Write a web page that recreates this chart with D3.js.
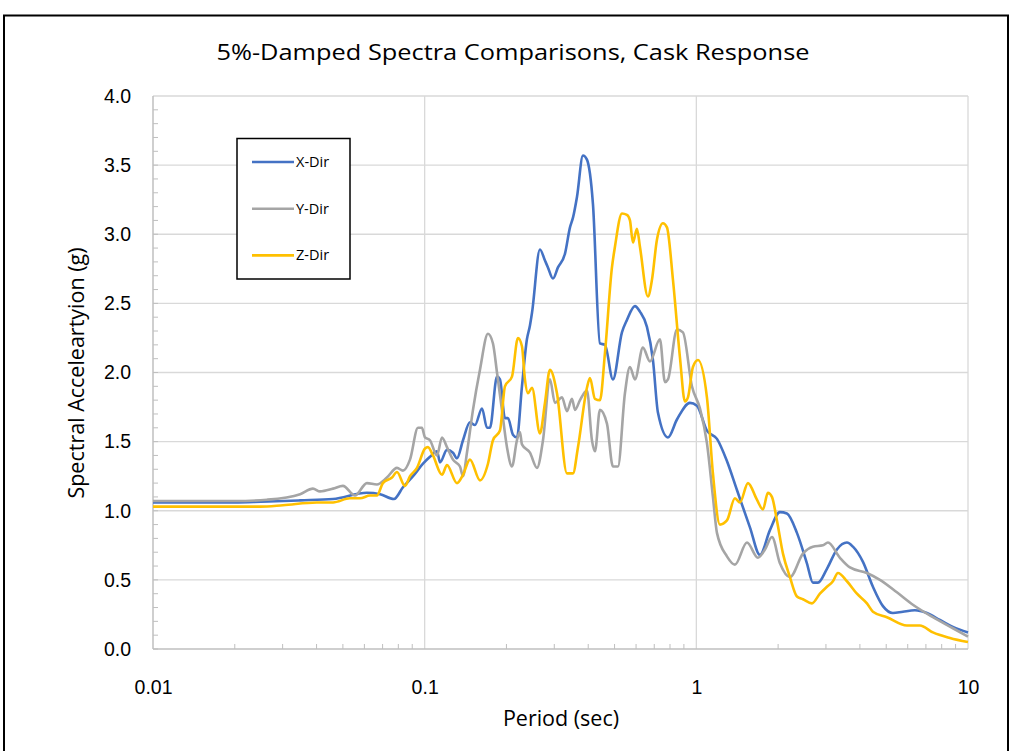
<!DOCTYPE html>
<html lang="en">
<head>
  <meta charset="UTF-8">
  <title>5%-Damped Spectra Comparisons</title>
  <script src="https://d3js.org/d3.v7.min.js"></script>
  <style>
    body { margin: 0; background: #fff; }
    svg { font-family: "Open Sans", Lato, sans-serif; }
    .tick text { font-size: 19.5px; fill: #000; }
    .grid { stroke: #d9d9d9; stroke-width: 1.3; }
    .axisline { stroke: #bfbfbf; stroke-width: 1.5; }
    .minor { stroke: #bfbfbf; stroke-width: 1; }
    .series { fill: none; stroke-width: 2.6; stroke-linejoin: round; }
  </style>
</head>
<body>
<svg></svg>
<script>
  // period (sec) / spectral acceleration (g) pairs
  const xDir = [
    [0.01,1.06],[0.02,1.06],[0.025,1.065],[0.0348,1.075],[0.046,1.085],[0.0613,1.13],[0.0685,1.12],
    [0.0771,1.085],[0.0832,1.17],[0.0906,1.25],[0.0986,1.34],[0.1046,1.39],[0.111,1.43],[0.1139,1.35],
    [0.1208,1.44],[0.1271,1.42],[0.1315,1.38],[0.1384,1.51],[0.1468,1.64],[0.1531,1.62],[0.1626,1.74],
    [0.1696,1.6],[0.1739,1.6],[0.1846,1.97],[0.1893,1.95],[0.1975,1.67],[0.2026,1.67],[0.2113,1.55],
    [0.2186,1.53],[0.2281,1.9],[0.2379,2.24],[0.2441,2.34],[0.2483,2.43],[0.2657,2.89],[0.2772,2.81],
    [0.2843,2.76],[0.2967,2.68],[0.3095,2.76],[0.3285,2.86],[0.3427,3.05],[0.3515,3.12],[0.3636,3.27],
    [0.3826,3.57],[0.3957,3.54],[0.4163,3.22],[0.4418,2.21],[0.4609,2.2],[0.4932,1.95],[0.5323,2.29],
    [0.5554,2.38],[0.5943,2.48],[0.62,2.44],[0.6579,2.33],[0.6924,2.09],[0.7222,1.71],[0.7863,1.53],
    [0.8485,1.66],[0.9471,1.78],[1.005,1.76],[1.094,1.58],[1.191,1.52],[1.296,1.36],[1.411,1.15],
    [1.575,0.88],[1.715,0.68],[1.866,0.86],[2.031,0.99],[2.155,0.98],[2.346,0.84],[2.553,0.62],
    [2.686,0.48],[2.803,0.48],[3.025,0.58],[3.293,0.72],[3.584,0.77],[3.771,0.74],[4.105,0.63],
    [4.467,0.45],[4.863,0.31],[5.291,0.26],[5.759,0.27],[6.376,0.28],[7.06,0.26],[7.882,0.21],
    [8.799,0.16],[10,0.12]
  ];
  const yDir = [
    [0.01,1.07],[0.02,1.07],[0.0263,1.08],[0.0348,1.12],[0.0388,1.16],[0.0412,1.14],[0.046,1.16],
    [0.05,1.18],[0.0554,1.11],[0.0613,1.2],[0.0667,1.19],[0.0726,1.24],[0.0791,1.31],[0.0832,1.29],
    [0.0883,1.37],[0.0945,1.6],[0.0977,1.6],[0.1003,1.53],[0.1046,1.51],[0.111,1.4],[0.1158,1.53],
    [0.1208,1.46],[0.1271,1.37],[0.1349,1.32],[0.1384,1.25],[0.1431,1.42],[0.1506,1.73],[0.1598,2.02],
    [0.171,2.28],[0.1784,2.21],[0.1846,2.0],[0.1925,1.73],[0.2009,1.46],[0.2096,1.32],[0.2186,1.51],
    [0.2242,1.57],[0.2281,1.48],[0.2441,1.42],[0.2591,1.31],[0.2726,1.51],[0.2892,1.95],[0.3017,1.78],
    [0.3202,1.82],[0.3341,1.72],[0.3485,1.81],[0.3575,1.73],[0.373,1.8],[0.3957,1.87],[0.4128,1.51],
    [0.4235,1.43],[0.4418,1.73],[0.4688,1.63],[0.4932,1.32],[0.5146,1.32],[0.546,1.85],[0.5697,2.04],
    [0.5943,1.95],[0.6359,2.18],[0.6749,2.08],[0.7346,2.24],[0.7664,1.93],[0.7863,1.95],[0.8485,2.31],
    [0.8927,2.29],[0.9634,1.9],[1.031,1.74],[1.094,1.49],[1.151,1.1],[1.191,0.84],[1.296,0.67],
    [1.387,0.61],[1.536,0.77],[1.685,0.66],[1.789,0.72],[1.898,0.81],[2.031,0.62],[2.211,0.52],
    [2.468,0.69],[2.686,0.74],[2.924,0.75],[3.051,0.77],[3.378,0.66],[3.676,0.59],[4.246,0.55],
    [4.74,0.5],[5.473,0.41],[6.269,0.32],[7.428,0.23],[8.799,0.15],[10,0.09]
  ];
  const zDir = [
    [0.01,1.03],[0.0248,1.03],[0.0301,1.04],[0.0401,1.06],[0.046,1.06],[0.0531,1.09],[0.0578,1.09],
    [0.0629,1.11],[0.0667,1.11],[0.0702,1.2],[0.0758,1.24],[0.0791,1.28],[0.0846,1.18],[0.0883,1.25],
    [0.0937,1.31],[0.1003,1.45],[0.1028,1.46],[0.1073,1.4],[0.1158,1.26],[0.1208,1.33],[0.1315,1.2],
    [0.1384,1.26],[0.1468,1.37],[0.1598,1.22],[0.171,1.34],[0.1784,1.51],[0.1893,1.58],[0.1975,1.9],
    [0.2096,1.97],[0.2205,2.25],[0.2281,2.19],[0.2339,1.95],[0.24,1.85],[0.2483,1.89],[0.2657,1.56],
    [0.2772,1.78],[0.2892,2.02],[0.3069,1.85],[0.3341,1.27],[0.3515,1.27],[0.3667,1.46],[0.3957,1.89],
    [0.4059,1.96],[0.4235,1.81],[0.4418,1.8],[0.4609,2.14],[0.4891,2.76],[0.5017,2.91],[0.5323,3.15],
    [0.5554,3.14],[0.5697,3.1],[0.5843,2.94],[0.6045,3.04],[0.62,2.91],[0.6635,2.55],[0.6865,2.67],
    [0.7161,2.96],[0.7535,3.08],[0.7796,3.05],[0.8203,2.67],[0.8703,2.11],[0.908,1.79],[0.9314,1.82],
    [0.9716,2.04],[1.014,2.09],[1.094,1.82],[1.151,1.27],[1.221,0.9],[1.296,0.93],[1.387,1.09],
    [1.447,1.06],[1.549,1.2],[1.671,1.08],[1.759,1.01],[1.834,1.13],[1.898,1.1],[1.98,0.93],
    [2.084,0.69],[2.211,0.52],[2.346,0.38],[2.468,0.36],[2.663,0.33],[2.85,0.4],[3.025,0.45],
    [3.183,0.49],[3.321,0.55],[3.584,0.49],[3.901,0.4],[4.246,0.33],[4.467,0.27],[5.028,0.23],
    [5.958,0.17],[6.652,0.17],[7.428,0.12],[8.58,0.08],[10,0.05]
  ];
  const seriesNames = ["X-Dir", "Y-Dir", "Z-Dir"];
  const seriesColors = ["#4472c4", "#a5a5a5", "#ffc000"];
  const xTicks = [0.01, 0.1, 1, 10];
  const yTicks = [0, 0.5, 1, 1.5, 2, 2.5, 3, 3.5, 4];

  const width = 1012, height = 751;
  const svg = d3.select("svg").attr("width", width).attr("height", height);

  // outer frame
  svg.append("rect").attr("x", 4).attr("y", 15.5).attr("width", 1004).attr("height", 800)
    .attr("fill", "none").attr("stroke", "#000").attr("stroke-width", 2);

  const x = d3.scaleLog().domain([0.01, 10]).range([153, 968]);
  const y = d3.scaleLinear().domain([0, 4]).range([649, 96]);

  // gridlines
  svg.selectAll(".hgrid").data(yTicks.filter(d => d > 0)).enter().append("line")
    .attr("class", "grid").attr("x1", 153).attr("x2", 968).attr("y1", d => y(d)).attr("y2", d => y(d));
  svg.selectAll(".vgrid").data(xTicks.slice(1)).enter().append("line")
    .attr("class", "grid").attr("y1", 96).attr("y2", 649).attr("x1", d => x(d)).attr("x2", d => x(d));

  // minor ticks
  const yMinor = d3.range(0, 40).map(i => i / 10);
  svg.selectAll(".ym").data(yMinor).enter().append("line").attr("class", "minor")
    .attr("x1", 153).attr("x2", 158).attr("y1", d => y(d)).attr("y2", d => y(d));
  const xMinor = [];
  [0.01, 0.1, 1].forEach(dec => { for (let k = 2; k <= 9; k++) xMinor.push(dec * k); });
  svg.selectAll(".xm").data(xMinor).enter().append("line").attr("class", "minor")
    .attr("y1", 649).attr("y2", 644).attr("x1", d => x(d)).attr("x2", d => x(d));

  // axis lines
  svg.append("line").attr("class", "axisline").attr("x1", 153).attr("x2", 153).attr("y1", 96).attr("y2", 649);
  svg.append("line").attr("class", "axisline").attr("x1", 153).attr("x2", 968).attr("y1", 649).attr("y2", 649);

  // tick labels
  const yAxis = svg.append("g").attr("transform", "translate(153,0)")
    .call(d3.axisLeft(y).tickValues(yTicks).tickFormat(d3.format(".1f")).tickSize(0).tickPadding(22));
  yAxis.select(".domain").remove();
  const xAxis = svg.append("g").attr("transform", "translate(0,649)")
    .call(d3.axisBottom(x).tickValues(xTicks).tickFormat(d => String(d)).tickSize(0).tickPadding(31));
  xAxis.select(".domain").remove();

  // lines
  const line = d3.line().x(d => x(d[0])).y(d => y(d[1])).curve(d3.curveMonotoneX);
  [xDir, yDir, zDir].forEach((s, i) => {
    svg.append("path").datum(s).attr("class", "series").attr("stroke", seriesColors[i]).attr("d", line);
  });

  // titles
  svg.append("text").attr("x", 513).attr("y", 60).attr("text-anchor", "middle")
    .attr("font-size", 22.5).attr("textLength", 593).attr("lengthAdjust", "spacingAndGlyphs")
    .text("5%-Damped Spectra Comparisons, Cask Response");
  svg.append("text").attr("x", 561).attr("y", 726).attr("text-anchor", "middle")
    .attr("font-size", 21.5).text("Period (sec)");
  svg.append("text").attr("transform", "translate(84,373) rotate(-90)").attr("text-anchor", "middle")
    .attr("font-size", 21.5).text("Spectral Acceleartyion (g)");

  // legend
  const lg = svg.append("g");
  lg.append("rect").attr("x", 237).attr("y", 138.5).attr("width", 113).attr("height", 140.5)
    .attr("fill", "#fff").attr("stroke", "#000").attr("stroke-width", 1.5);
  seriesNames.forEach((n, i) => {
    const ly = 162 + i * 46.7;
    lg.append("line").attr("x1", 252).attr("x2", 294).attr("y1", ly).attr("y2", ly)
      .attr("stroke", seriesColors[i]).attr("stroke-width", 2.6);
    lg.append("text").attr("x", 296).attr("y", ly + 5).attr("font-size", 14.5).text(n);
  });
</script>
</body>
</html>
